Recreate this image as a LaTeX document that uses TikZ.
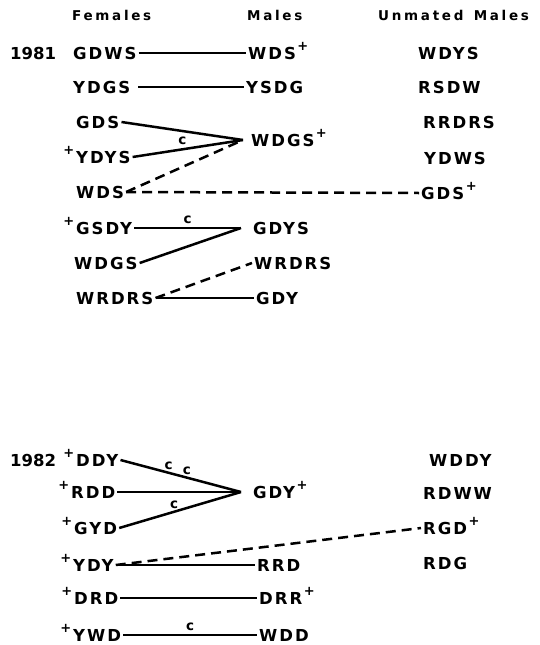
\documentclass[tikz,border=0pt]{standalone}
\usepackage{fontspec}
\setmainfont{Liberation Sans}
\usepackage{tikz}
\usetikzlibrary{positioning}
\newfontfamily\namefont[LetterSpace=12]{DejaVu Sans}
\newfontfamily\headfont[LetterSpace=20, WordSpace=1.4]{DejaVu Sans}
\newfontfamily\yearfont{DejaVu Sans}
\newcommand{\plusbefore}{\llap{\smash{\raisebox{9pt}{\bfseries\fontsize{13}{13}\selectfont +}}\kern2pt}}
\newcommand{\plusafter}{\kern1.5pt\smash{\raisebox{9pt}{\bfseries\fontsize{13}{13}\selectfont +}}}
\tikzset{
  bird/.style={anchor=west, inner sep=2pt, font=\namefont\bfseries\fontsize{16.5}{20}\selectfont},
  header/.style={anchor=west, inner sep=2pt, font=\headfont\bfseries\fontsize{13.5}{17}\selectfont},
  yearlab/.style={anchor=west, inner sep=2pt, font=\yearfont\bfseries\fontsize{16.5}{20}\selectfont},
  clab/.style={inner sep=1pt, font=\namefont\bfseries\fontsize{13.5}{15}\selectfont},
  link/.style={line width=2.5pt, color=black},
  dashlink/.style={link, dash pattern=on 10pt off 6pt}
}
\begin{document}
\begin{tikzpicture}[x=1pt, y=-1pt]
  \useasboundingbox (0,0) rectangle (539,645);

  % column headers
  \node[header] (hfem) at (70,15) {Females};
  \node[header] (hmale) at (245,15) {Males};
  \node[header] (hunm) at (376,15) {Unmated Males};

  % 1981
  \node[yearlab] (y81) at (8,53) {1981};
  \node[bird] (f81gdws) at (71,53) {GDWS};
  \node[bird] (f81ydgs) at (71,87) {YDGS};
  \node[bird] (f81gds) at (74,122) {GDS};
  \node[bird] (f81ydys) at (74,157) {\plusbefore YDYS};
  \node[bird] (f81wds) at (74,192) {WDS};
  \node[bird] (f81gsdy) at (74,228) {\plusbefore GSDY};
  \node[bird] (f81wdgs) at (72,263) {WDGS};
  \node[bird] (f81wrdrs) at (74,298) {WRDRS};

  \node[bird] (m81wds) at (246,53) {WDS\plusafter};
  \node[bird] (m81ysdg) at (244,87) {YSDG};
  \node[bird] (m81wdgs) at (249,140) {WDGS\plusafter};
  \node[bird] (m81gdys) at (251,228) {GDYS};
  \node[bird] (m81wrdrs) at (252,263) {WRDRS};
  \node[bird] (m81gdy) at (254,298) {GDY};

  \node[bird] (u81wdys) at (416,53) {WDYS};
  \node[bird] (u81rsdw) at (416,87) {RSDW};
  \node[bird] (u81rrdrs) at (421,122) {RRDRS};
  \node[bird] (u81ydws) at (422,158) {YDWS};
  \node[bird] (u81gds) at (419,193) {GDS\plusafter};

  \draw[link] (f81gdws.east) -- (m81wds.west);
  \draw[link] ([xshift=6pt]f81ydgs.east) -- (m81ysdg.west);
  \draw[link] (f81gds.east) -- ([xshift=-6pt]m81wdgs.west);
  \draw[link] (f81ydys.east) -- node[clab, pos=0.45, above=2pt] {c} ([xshift=-6pt]m81wdgs.west);
  \draw[dashlink] (f81wds.east) -- ([xshift=-6pt]m81wdgs.west);
  \draw[dashlink] (f81wds.east) -- (u81gds.west);
  \draw[link] (f81gsdy.east) -- node[clab, pos=0.5, above=2pt] {c} ([xshift=-10pt]m81gdys.west);
  \draw[link] (f81wdgs.east) -- ([xshift=-10pt]m81gdys.west);
  \draw[dashlink] (f81wrdrs.east) -- (m81wrdrs.west);
  \draw[link] (f81wrdrs.east) -- (m81gdy.west);

  % 1982
  \node[yearlab] (y82) at (8,460) {1982};
  \node[bird] (f82ddy) at (74,460) {\plusbefore DDY};
  \node[bird] (f82rdd) at (69,492) {\plusbefore RDD};
  \node[bird] (f82gyd) at (72,528) {\plusbefore GYD};
  \node[bird] (f82ydy) at (71,565) {\plusbefore YDY};
  \node[bird] (f82drd) at (72,598) {\plusbefore DRD};
  \node[bird] (f82ywd) at (71,635) {\plusbefore YWD};

  \node[bird] (m82gdy) at (251,492) {GDY\plusafter};
  \node[bird] (m82rrd) at (255,565) {RRD};
  \node[bird] (m82drr) at (257,598) {DRR\plusafter};
  \node[bird] (m82wdd) at (257,635) {WDD};

  \node[bird] (u82wddy) at (427,460) {WDDY};
  \node[bird] (u82rdww) at (421,493) {RDWW};
  \node[bird] (u82rgd) at (421,528) {RGD\plusafter};
  \node[bird] (u82rdg) at (421,563) {RDG};

  \draw[link] (f82ddy.east) -- node[clab, pos=0.4, above=1pt] {c} node[clab, pos=0.55, above=1pt] {c} ([xshift=-10pt]m82gdy.west);
  \draw[link] (f82rdd.east) -- ([xshift=-10pt]m82gdy.west);
  \draw[link] (f82gyd.east) -- node[clab, pos=0.45, above=1pt] {c} ([xshift=-10pt]m82gdy.west);
  \draw[dashlink] (f82ydy.east) -- (u82rgd.west);
  \draw[link] (f82ydy.east) -- (m82rrd.west);
  \draw[link] (f82drd.east) -- (m82drr.west);
  \draw[link] (f82ywd.east) -- node[clab, pos=0.5, above=2pt] {c} (m82wdd.west);
\end{tikzpicture}
\end{document}
